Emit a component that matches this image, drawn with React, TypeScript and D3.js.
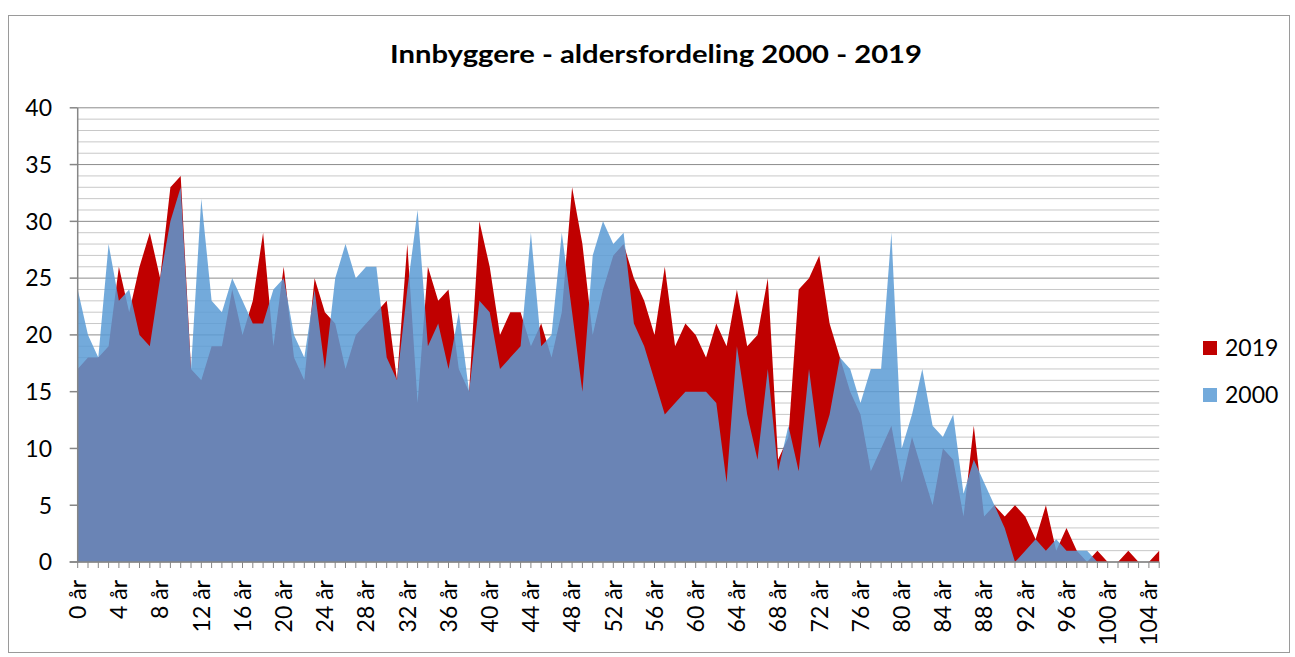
import React from 'react';
import * as d3 from 'd3';

// Ages 0..105 (category axis)
const ages: number[] = [
  0, 1, 2, 3, 4, 5, 6, 7, 8, 9, 10, 11, 12, 13, 14, 15, 16, 17, 18, 19,
  20, 21, 22, 23, 24, 25, 26, 27, 28, 29, 30, 31, 32, 33, 34, 35, 36, 37, 38, 39,
  40, 41, 42, 43, 44, 45, 46, 47, 48, 49, 50, 51, 52, 53, 54, 55, 56, 57, 58, 59,
  60, 61, 62, 63, 64, 65, 66, 67, 68, 69, 70, 71, 72, 73, 74, 75, 76, 77, 78, 79,
  80, 81, 82, 83, 84, 85, 86, 87, 88, 89, 90, 91, 92, 93, 94, 95, 96, 97, 98, 99,
  100, 101, 102, 103, 104, 105,
];

const values2019: number[] = [
  17, 18, 18, 19, 26, 22, 26, 29, 25, 33, 34, 17, 16, 19, 19, 24, 20, 23, 29, 19,
  26, 18, 16, 25, 22, 21, 17, 20, 21, 22, 23, 16, 28, 14, 26, 23, 24, 17, 15, 30,
  26, 20, 22, 22, 19, 21, 18, 22, 33, 28, 20, 24, 27, 28, 25, 23, 20, 26, 19, 21,
  20, 18, 21, 19, 24, 19, 20, 25, 9, 11, 24, 25, 27, 21, 18, 15, 13, 8, 10, 12,
  7, 11, 8, 5, 10, 9, 4, 12, 4, 5, 4, 5, 4, 2, 5, 1, 3, 1, 0, 1,
  0, 0, 1, 0, 0, 1,
];

const values2000: number[] = [
  24, 20, 18, 28, 23, 24, 20, 19, 25, 30, 33, 17, 32, 23, 22, 25, 23, 21, 21, 24,
  25, 20, 18, 24, 17, 25, 28, 25, 26, 26, 18, 16, 24, 31, 19, 21, 17, 22, 15, 23,
  22, 17, 18, 19, 29, 19, 20, 29, 22, 15, 27, 30, 28, 29, 21, 19, 16, 13, 14, 15,
  15, 15, 14, 7, 19, 13, 9, 17, 8, 12, 8, 17, 10, 13, 18, 17, 14, 17, 17, 29,
  10, 13, 17, 12, 11, 13, 6, 9, 7, 5, 3, 0, 1, 2, 1, 2, 1, 1, 1, 0,
  0, 0, 0, 0, 0, 0,
];

const labelAges: number[] = [0, 4, 8, 12, 16, 20, 24, 28, 32, 36, 40, 44, 48, 52, 56, 60, 64, 68, 72, 76, 80, 84, 88, 92, 96, 100, 104];
const yMajorTicks: number[] = [0, 5, 10, 15, 20, 25, 30, 35, 40];
const seriesNames: string[] = ['2019', '2000'];
const title = 'Innbyggere - aldersfordeling 2000 - 2019';

const RED = '#C00000';
const BLUE = '#5B9BD5';
const BLUE_OPACITY = 0.85;
const FONT = 'Lato, "Open Sans", sans-serif';

export default function App() {
  const W = 1295;
  const H = 657;
  const x = d3.scaleLinear().domain([0, 105]).range([77.7, 1159.2]);
  const y = d3.scaleLinear().domain([0, 40]).range([562, 107.8]);

  const areaGen = d3
    .area<number>()
    .x((_, i) => x(ages[i]))
    .y0(y(0))
    .y1((d) => y(d));

  const minorTicks = d3.range(1, 40).filter((v) => v % 5 !== 0);
  const x0 = x(0);
  const x1 = x(105);

  return (
    <svg
      width={W}
      height={H}
      style={{ position: 'absolute', left: 0, top: 0, background: '#fff' }}
      fontFamily={FONT}
    >
      <rect x={0} y={0} width={W} height={H} fill="#fff" />
      <rect x={8.5} y={15.5} width={1281} height={637} fill="#fff" stroke="#9a9a9a" strokeWidth={1} />

      <text
        x={656}
        y={63}
        textAnchor="middle"
        fontSize={25}
        fontWeight="bold"
        fill="#000"
        textLength={532}
        lengthAdjust="spacingAndGlyphs"
      >
        {title}
      </text>

      {/* minor gridlines */}
      {minorTicks.map((v) => (
        <line key={'mn' + v} x1={x0} x2={x1} y1={y(v)} y2={y(v)} stroke="#c8c8c8" strokeWidth={1} />
      ))}
      {/* major gridlines */}
      {yMajorTicks.map((v) => (
        <line key={'mj' + v} x1={x0} x2={x1} y1={y(v)} y2={y(v)} stroke="#8c8c8c" strokeWidth={1} />
      ))}

      {/* areas */}
      <path d={areaGen(values2019) || ''} fill={RED} />
      <path d={areaGen(values2000) || ''} fill={BLUE} fillOpacity={BLUE_OPACITY} />

      {/* y axis */}
      <line x1={x0} x2={x0} y1={y(40)} y2={y(0)} stroke="#868686" strokeWidth={1.5} />
      {yMajorTicks.map((v) => (
        <g key={'yt' + v}>
          <line x1={x0 - 8} x2={x0} y1={y(v)} y2={y(v)} stroke="#868686" strokeWidth={1.5} />
          <text x={52} y={y(v)} dy="0.36em" textAnchor="end" fontSize={23} fill="#000">
            {v}
          </text>
        </g>
      ))}

      {/* x axis */}
      <line x1={x0 - 8} x2={x1} y1={y(0)} y2={y(0)} stroke="#868686" strokeWidth={1.5} />
      {ages.map((a) => (
        <line key={'xt' + a} x1={x(a)} x2={x(a)} y1={y(0)} y2={y(0) + 6} stroke="#868686" strokeWidth={1} />
      ))}
      {labelAges.map((a) => (
        <text
          key={'xl' + a}
          transform={`translate(${x(a)},${y(0) + 18}) rotate(-90)`}
          textAnchor="end"
          dy="0.36em"
          fontSize={23}
          fill="#000"
        >
          {a + ' år'}
        </text>
      ))}

      {/* legend */}
      <rect x={1203} y={341} width={14} height={14} fill={RED} />
      <text x={1225} y={356} fontSize={23} fill="#000">
        {seriesNames[0]}
      </text>
      <rect x={1203} y={388} width={14} height={14} fill={BLUE} fillOpacity={BLUE_OPACITY} />
      <text x={1225} y={403} fontSize={23} fill="#000">
        {seriesNames[1]}
      </text>
    </svg>
  );
}
